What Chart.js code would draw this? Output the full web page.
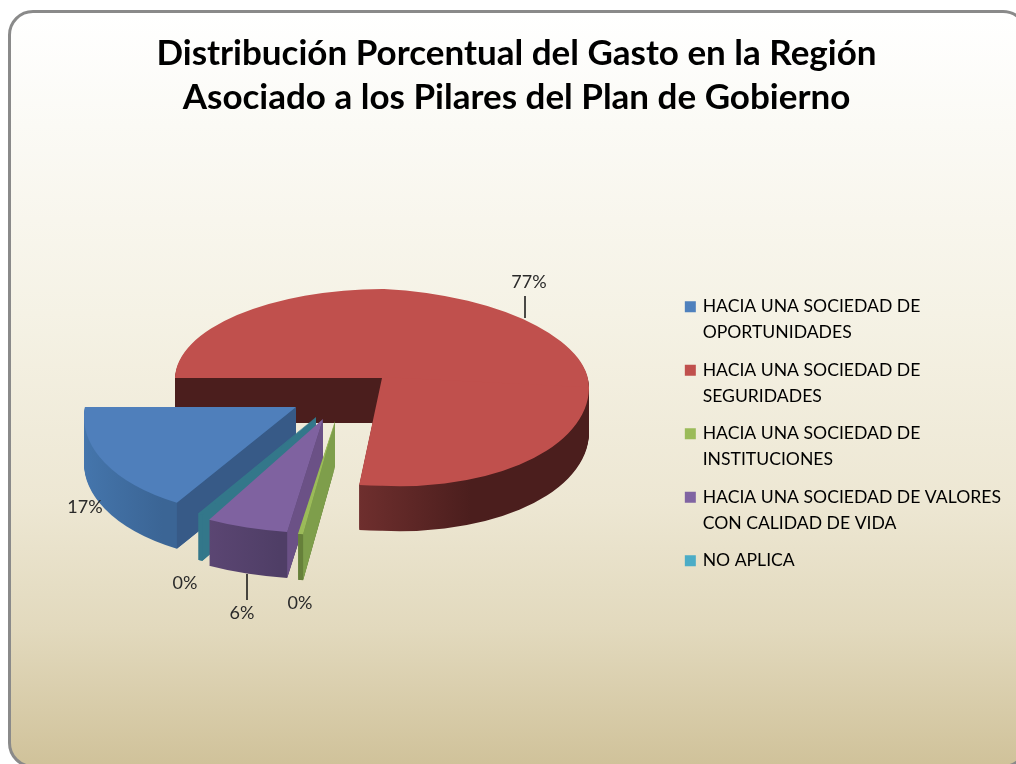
<!DOCTYPE html>
<html><head><meta charset="utf-8">
<script src="https://cdn.jsdelivr.net/npm/chart.js@4"></script>
<style>
html,body{margin:0;padding:0;background:#fff;overflow:hidden}
#wrap{position:relative;width:1016px;height:764px;overflow:hidden}
#panel{position:absolute;left:8px;top:10px;width:1020px;height:758px;border:3px solid #8a8a8a;border-radius:25px;box-sizing:border-box;
background:linear-gradient(180deg,#ffffff 0%,#fbfaf5 15%,#f5f2e5 40%,#ede7d3 65%,#e2d9bd 82%,#d0c29a 100%)}
canvas{position:absolute;left:0;top:0}
</style></head><body>
<div id="wrap"><div id="panel"></div><canvas id="c" width="1016" height="764"></canvas></div>
<script>
const titleLines = ['Distribución Porcentual del Gasto en la Región','Asociado a los Pilares del Plan de Gobierno'];
const categories = [
  ['HACIA UNA SOCIEDAD DE','OPORTUNIDADES'],
  ['HACIA UNA SOCIEDAD DE','SEGURIDADES'],
  ['HACIA UNA SOCIEDAD DE','INSTITUCIONES'],
  ['HACIA UNA SOCIEDAD DE VALORES','CON CALIDAD DE VIDA'],
  ['NO APLICA']
];
const values = [16.9, 76.6, 0.4, 5.7, 0.4];
const valueLabels = ['17%','77%','0%','6%','0%'];
const colors = ['#4F81BD','#C0504D','#9BBB59','#8064A2','#4BACC6'];

// 3D look of each slice
const look = [
  {dx:-86,dy:29,kx:-0.09,sx:1.02,up:.43,low:.53,tilt:0,depth:46,wall:[[0,'#4576ad'],[.22,'#3b6595'],[1,'#3b6595']],cut:'#375a87',top:'#4F7FBB'},
  {dx:0,dy:0,kx:-0.01,sx:1,up:.43,low:.52,tilt:.05,depth:45,wall:[[0,'#6f2f2e'],[.445,'#6f2f2e'],[.72,'#4b1e1d'],[1,'#4b1e1d']],cut:'#4b1e1d',top:'#C0504D'},
  {dx:-47,dy:43,kx:-0.054,sx:1,up:.43,low:.55,tilt:0,depth:46,wall:[[0,'#66803a'],[1,'#66803a']],cut:'#7e9e4b',top:'#9BBB59'},
  {dx:-59,dy:41,kx:-0.033,sx:1.12,up:.43,low:.55,tilt:0,depth:46,wall:[[.2,'#604978'],[.42,'#4f3e66']],cut:'#6b5186',top:'#7F62A0'},
  {dx:-66,dy:39,kx:-0.096,sx:1,up:.43,low:.535,tilt:0,depth:46,wall:[[0,'#33778a'],[1,'#33778a']],cut:'#33778a',top:'#33778a'}
];
const paintOrder = [1,0,4,3,2];
const pieCentre = {x:382,y:378};
const labelBoxes = [
  {x:85,y:507},{x:529,y:282,line:[525,296,525,318]},{x:185,y:583},{x:242,y:613,line:[247,574,247,600]},{x:300,y:603}
];

function drawArc(ctx, arc, L, fill, drop){
  const ax = pieCentre.x + L.dx, ay = pieCentre.y + L.dy + drop;
  const saved = arc.options;
  arc.options = Object.assign({}, saved, {backgroundColor: fill, borderWidth: 0});
  const far = 2000;
  [['up',0],['low',0],['up',1],['low',1]].forEach(([part,right])=>{
    const s = L[part], t = right ? L.tilt : 0;
    if(right && !L.tilt) return;
    ctx.save();
    ctx.beginPath();
    if(!right && L.tilt){
      if(part==='up') ctx.rect(ax-far,ay-far,far,far); else ctx.rect(ax-far,ay,far,far);
    } else if(!right){
      if(part==='up') ctx.rect(ax-far,ay-far,2*far,far); else ctx.rect(ax-far,ay,2*far,far);
    } else {
      const lap = part==='low' ? -1 : 0;
      const sign = part==='up' ? -1 : 1;
      ctx.moveTo(ax,ay+lap); ctx.lineTo(ax+far,ay+lap+far*t);
      ctx.lineTo(ax+far,ay+sign*far); ctx.lineTo(ax,ay+sign*far); ctx.closePath();
    }
    ctx.clip();
    ctx.transform(L.sx,t,L.kx,s, ax-L.sx*arc.x-L.kx*arc.y, ay-t*arc.x-s*arc.y);
    arc.draw(ctx);
    ctx.restore();
  });
  arc.options = saved;
}

const pie3d = {
  id:'pie3d',
  beforeDatasetDraw(chart){
    const ctx = chart.ctx;
    const arcs = chart.getDatasetMeta(0).data;
    paintOrder.forEach(i=>{
      const arc = arcs[i], L = look[i], r = arc.outerRadius;
      const g = ctx.createLinearGradient(arc.x-r,0,arc.x+r,0);
      L.wall.forEach(([p,c])=>g.addColorStop(p,c));
      for(let d=L.depth;d>=1;d--) drawArc(ctx,arc,L,g,d);
      const ax = pieCentre.x+L.dx, ay = pieCentre.y+L.dy;
      const cx = r*Math.cos(arc.startAngle), cy = r*Math.sin(arc.startAngle);
      const px = ax + L.sx*cx + L.kx*cy, py = ay + (cy<0?L.up:L.low)*cy;
      ctx.fillStyle = L.cut;
      ctx.beginPath();
      ctx.moveTo(ax,ay); ctx.lineTo(px,py); ctx.lineTo(px,py+L.depth); ctx.lineTo(ax,ay+L.depth);
      ctx.closePath(); ctx.fill();
      drawArc(ctx,arc,L,L.top,0);
    });
    ctx.save();
    ctx.font = '18px Lato'; ctx.textAlign='center'; ctx.textBaseline='middle';
    valueLabels.forEach((t,i)=>{
      const b = labelBoxes[i];
      if(b.line){
        ctx.strokeStyle='#111'; ctx.lineWidth=1.5;
        ctx.beginPath(); ctx.moveTo(b.line[0],b.line[1]); ctx.lineTo(b.line[2],b.line[3]); ctx.stroke();
      }
      ctx.fillStyle='#2a2a2a';
      ctx.fillText(t,b.x,b.y);
    });
    ctx.restore();
    return false;
  }
};

new Chart(document.getElementById('c'),{
  type:'pie',
  data:{labels:categories,datasets:[{data:values,backgroundColor:colors,borderWidth:0,radius:207,hoverOffset:0}]},
  plugins:[pie3d],
  options:{
    responsive:false,animation:false,
    rotation:209.16,
    layout:{padding:{left:22,right:5,top:0,bottom:0}},
    plugins:{
      tooltip:{enabled:false},
      title:{display:true,text:titleLines,color:'#000',align:'center',
        font:{family:'Lato',size:35,weight:'bold',lineHeight:44/35},padding:{top:31.5,bottom:167}},
      legend:{display:true,position:'right',align:'start',fullSize:false,
        labels:{font:{family:'Lato',size:17.6,lineHeight:26/17.6},color:'#222',boxWidth:7,boxHeight:7,padding:11.5,
          generateLabels(chart){
            return categories.map((text,i)=>({text,fillStyle:colors[i],strokeStyle:colors[i],lineWidth:4,hidden:false,index:i}));
          }}}
    }
  }
});
</script>
</body></html>
